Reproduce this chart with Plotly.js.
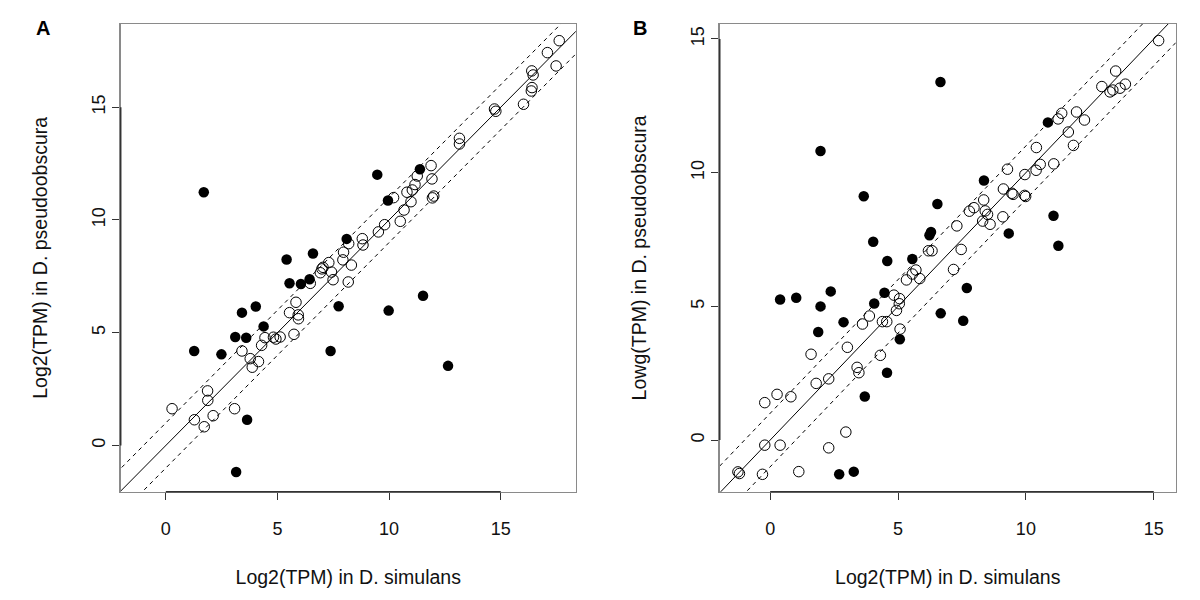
<!DOCTYPE html>
<html>
<head>
<meta charset="utf-8">
<script src="https://cdn.plot.ly/plotly-3.0.1.min.js"></script>
<style>html,body{margin:0;padding:0;background:#fff;}#chart{width:1200px;height:600px;}</style>
</head>
<body>
<div id="chart"></div>
<script>
// ---------- Panel A data ----------
const aOpenX = [17.62,17.09,17.48,16.39,16.45,16.40,16.37,16.02,14.72,14.78,13.15,13.15,11.88,11.92,11.26,11.16,11.04,10.80,10.98,10.67,11.94,12.00,10.50,10.20,9.80,9.52,8.80,8.83,8.19,7.96,7.93,8.31,8.17,7.30,7.04,6.99,6.92,7.42,7.49,6.47,5.83,5.54,5.93,5.94,5.74,4.44,4.29,4.82,4.93,5.12,3.41,3.78,4.15,3.87,1.87,1.88,0.28,1.28,2.12,1.72,3.08];
const aOpenY = [17.95,17.42,16.83,16.61,16.43,15.87,15.72,15.13,14.92,14.82,13.62,13.37,12.41,11.82,11.95,11.57,11.33,11.23,10.81,10.44,10.98,11.06,9.94,10.99,9.79,9.47,9.17,8.89,8.95,8.57,8.23,8.00,7.25,8.11,7.90,7.83,7.66,7.69,7.35,7.19,6.35,5.89,5.79,5.62,4.93,4.78,4.44,4.80,4.72,4.81,4.19,3.85,3.72,3.47,2.42,2.00,1.63,1.14,1.32,0.83,1.63];
const aFillX = [1.70,8.10,6.59,5.41,9.47,11.38,9.95,5.54,6.05,6.44,7.74,3.41,4.03,4.38,3.11,3.60,1.27,2.49,7.38,3.64,3.15,9.98,11.52,12.64];
const aFillY = [11.23,9.16,8.51,8.25,12.01,12.25,10.86,7.19,7.16,7.37,6.17,5.89,6.16,5.28,4.81,4.78,4.19,4.04,4.19,1.14,-1.18,5.98,6.64,3.53];

// ---------- Panel B data ----------
const bOpenX = [15.19,13.51,12.97,13.29,13.40,13.68,13.89,11.40,11.26,11.98,12.29,11.66,11.86,10.41,10.56,10.40,11.09,9.28,9.96,9.12,9.45,9.50,9.95,9.99,8.35,7.97,7.79,8.41,8.50,8.31,8.60,9.10,7.30,7.47,6.19,6.33,7.17,5.70,5.56,5.85,5.33,4.84,5.06,5.05,4.94,3.88,3.61,4.39,4.56,5.08,3.02,1.60,4.31,3.40,3.47,1.80,2.29,0.27,0.81,-0.21,2.96,-0.21,0.39,2.29,-1.26,-1.20,-0.30,1.12];
const bOpenY = [14.94,13.80,13.22,13.02,13.09,13.16,13.31,12.22,12.01,12.27,11.97,11.52,11.02,10.94,10.31,10.09,10.33,10.13,9.93,9.39,9.23,9.19,9.15,9.11,8.98,8.69,8.56,8.57,8.44,8.19,8.07,8.35,8.01,7.13,7.08,7.08,6.38,6.36,6.21,6.04,5.99,5.42,5.29,5.10,4.85,4.64,4.34,4.43,4.43,4.15,3.47,3.21,3.17,2.72,2.52,2.12,2.29,1.71,1.62,1.40,0.30,-0.19,-0.19,-0.29,-1.19,-1.25,-1.28,-1.18];
const bFillX = [6.66,1.97,3.66,6.54,6.29,6.23,4.03,4.58,5.56,10.86,8.36,11.08,9.33,11.27,0.39,1.02,2.37,1.97,4.47,4.07,2.87,1.88,5.07,6.67,4.57,3.70,2.70,3.27,7.69,7.55];
const bFillY = [13.39,10.81,9.12,8.83,7.78,7.66,7.42,6.70,6.77,11.88,9.71,8.39,7.73,7.27,5.26,5.32,5.56,5.00,5.51,5.11,4.41,4.04,3.77,4.74,2.52,1.63,-1.28,-1.18,5.69,4.46];

// ---------- reference lines (identity and +/-1) ----------
const lineSpan = [-5, 25];
const lineOffsets = [0, 1, -1];

// ---------- axis ticks / labels ----------
const tickVals = [0, 5, 10, 15];
const tickText = ['0', '5', '10', '15'];
const xTitle = 'Log2(TPM) in D. simulans';
const yTitleA = 'Log2(TPM) in D. pseudoobscura';
const yTitleB = 'Lowg(TPM) in D. pseudoobscura';
const panelLabels = ['A', 'B'];

const FONT = 'Liberation Sans, Arial, Helvetica, sans-serif';
const traces = [];

function addPanel(xa, ya, ox, oy, fx, fy) {
  lineOffsets.forEach(function (off) {
    traces.push({
      x: lineSpan, y: lineSpan.map(function (v) { return v + off; }),
      xaxis: xa, yaxis: ya, mode: 'lines', hoverinfo: 'skip', showlegend: false,
      line: {color: '#000', width: 1, dash: off === 0 ? 'solid' : '4px,4px'}
    });
  });
  traces.push({
    x: ox, y: oy, xaxis: xa, yaxis: ya, mode: 'markers', showlegend: false,
    marker: {symbol: 'circle-open', size: 10.5, color: '#000', line: {width: 1, color: '#000'}}
  });
  traces.push({
    x: fx, y: fy, xaxis: xa, yaxis: ya, mode: 'markers', showlegend: false,
    marker: {symbol: 'circle', size: 10.5, color: '#000', line: {width: 0}}
  });
}
addPanel('x', 'y', aOpenX, aOpenY, aFillX, aFillY);
addPanel('x2', 'y2', bOpenX, bOpenY, bFillX, bFillY);

function xAxis(domain, range, anchor) {
  return {
    domain: domain, range: range, anchor: anchor,
    showgrid: false, zeroline: false,
    showline: true, mirror: true, linecolor: '#8a8a8a', linewidth: 1.5,
    ticks: 'outside', ticklen: 7, tickwidth: 1, tickcolor: '#333',
    tickvals: tickVals, ticktext: tickText, ticklabelstandoff: 13,
    tickfont: {family: FONT, size: 18, color: '#111'},
    title: {text: xTitle, font: {family: FONT, size: 19.5, color: '#111'}, standoff: 32}
  };
}
function yAxis(domain, range, anchor, title) {
  return {
    domain: domain, range: range, anchor: anchor,
    showgrid: false, zeroline: false,
    showline: true, mirror: true, linecolor: '#8a8a8a', linewidth: 1.5,
    ticks: 'outside', ticklen: 7, tickwidth: 1, tickcolor: '#333',
    tickvals: tickVals, ticktext: tickText, tickangle: -90,
    tickfont: {family: FONT, size: 18, color: '#111'},
    title: {text: title, font: {family: FONT, size: 19.5, color: '#111'}, standoff: 36}
  };
}

const yDom = [0.1805, 0.96];
const layout = {
  width: 1200, height: 600,
  margin: {l: 0, r: 0, t: 0, b: 0},
  paper_bgcolor: '#fff', plot_bgcolor: '#fff',
  showlegend: false,
  xaxis: xAxis([0.1006, 0.4798], [-2.02, 18.36], 'y'),
  yaxis: yAxis(yDom, [-2.05, 18.69], 'x', yTitleA),
  xaxis2: xAxis([0.5998, 0.9798], [-1.97, 15.86], 'y2'),
  yaxis2: yAxis(yDom, [-1.93, 15.56], 'x2', yTitleB),
  shapes: [
    {type: 'line', xref: 'x', yref: 'y domain', x0: tickVals[0], x1: tickVals[tickVals.length - 1], y0: 0, y1: 0, line: {color: '#333', width: 1.5}},
    {type: 'line', xref: 'x domain', yref: 'y', x0: 0, x1: 0, y0: tickVals[0], y1: tickVals[tickVals.length - 1], line: {color: '#333', width: 1.5}},
    {type: 'line', xref: 'x2', yref: 'y2 domain', x0: tickVals[0], x1: tickVals[tickVals.length - 1], y0: 0, y1: 0, line: {color: '#333', width: 1.5}},
    {type: 'line', xref: 'x2 domain', yref: 'y2', x0: 0, x1: 0, y0: tickVals[0], y1: tickVals[tickVals.length - 1], line: {color: '#333', width: 1.5}}
  ],
  annotations: [
    {text: '<b>' + panelLabels[0] + '</b>', xref: 'paper', yref: 'paper', x: 43 / 1200, y: 1 - 28 / 600, showarrow: false, xanchor: 'center', yanchor: 'middle', font: {family: FONT, size: 20, color: '#000'}},
    {text: '<b>' + panelLabels[1] + '</b>', xref: 'paper', yref: 'paper', x: 640 / 1200, y: 1 - 28 / 600, showarrow: false, xanchor: 'center', yanchor: 'middle', font: {family: FONT, size: 20, color: '#000'}}
  ]
};

Plotly.newPlot('chart', traces, layout, {displayModeBar: false, staticPlot: true});
</script>
</body>
</html>
